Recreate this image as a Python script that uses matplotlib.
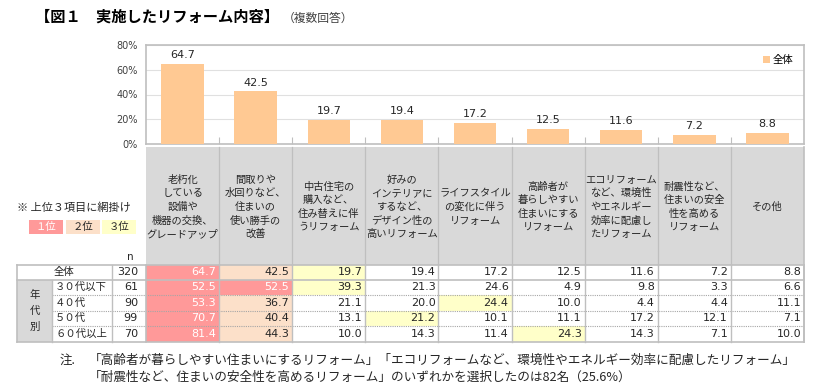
import matplotlib.pyplot as plt
from matplotlib.patches import Rectangle

plt.rcParams['font.family'] = ['Noto Sans CJK JP', 'DejaVu Sans']

# 項目（表の見出し）
categories = [
    '老朽化\nしている\n設備や\n機器の交換、\nグレードアップ',
    '間取りや\n水回りなど、\n住まいの\n使い勝手の\n改善',
    '中古住宅の\n購入など、\n住み替えに伴\nうリフォーム',
    '好みの\nインテリアに\nするなど、\nデザイン性の\n高いリフォーム',
    'ライフスタイル\nの変化に伴う\nリフォーム',
    '高齢者が\n暮らしやすい\n住まいにする\nリフォーム',
    'エコリフォーム\nなど、環境性\nやエネルギー\n効率に配慮し\nたリフォーム',
    '耐震性など、\n住まいの安全\n性を高める\nリフォーム',
    'その他',
]

# 全体
overall_n = 320
overall = [64.7, 42.5, 19.7, 19.4, 17.2, 12.5, 11.6, 7.2, 8.8]

# 年代別
age_labels = ['３０代以下', '４０代', '５０代', '６０代以上']
age_n = [61, 90, 99, 70]
age_20_30 = [52.5, 52.5, 39.3, 21.3, 24.6, 4.9, 9.8, 3.3, 6.6]
age_40 = [53.3, 36.7, 21.1, 20.0, 24.4, 10.0, 4.4, 4.4, 11.1]
age_50 = [70.7, 40.4, 13.1, 21.2, 10.1, 11.1, 17.2, 12.1, 7.1]
age_60 = [81.4, 44.3, 10.0, 14.3, 11.4, 24.3, 14.3, 7.1, 10.0]
age_values = [age_20_30, age_40, age_50, age_60]

W, H = 840, 391
fig = plt.figure(figsize=(W / 100, H / 100), dpi=100)

# 全体を描くキャンバス（ピクセル座標）
cv = fig.add_axes([0, 0, 1, 1])
cv.set_xlim(0, W)
cv.set_ylim(H, 0)
cv.axis('off')

# 表の座標
x0, x1 = 146, 804
ncol = len(categories)
cw = (x1 - x0) / ncol
hdr_top, hdr_bot = 147, 265
row_edges = [265, 279.5, 295, 310.5, 326, 341.5]
grid_c = '#BFBFBF'
txt_c = '#262626'
rank_colors = {1: '#FF9999', 2: '#FCE0C9', 3: '#FFFFC9'}

# 棒グラフ
ax = fig.add_axes([x0 / W, 1 - 144 / H, (x1 - x0) / W, (144 - 45) / H])
xs = list(range(ncol))
bars = ax.bar(xs, overall, width=0.58, color='#FFC993', label='全体', zorder=3)
for x, v in zip(xs, overall):
    ax.text(x, v + 3, f'{v:.1f}', ha='center', va='bottom', fontsize=8,
            color=txt_c, family='DejaVu Sans')
ax.set_xlim(-0.5, ncol - 0.5)
ax.set_ylim(0, 80)
ax.set_yticks([0, 20, 40, 60, 80])
ax.set_yticklabels(['0%', '20%', '40%', '60%', '80%'], fontsize=7, color='#404040',
                   family='DejaVu Sans')
ax.tick_params(axis='y', length=0, pad=6)
ax.set_xticks([i + 0.5 for i in range(ncol - 1)])
ax.set_xticklabels([])
ax.tick_params(axis='x', direction='in', length=5, color=grid_c)
ax.grid(axis='y', color='#E0E0E0', linewidth=0.8, zorder=0)
for s in ax.spines.values():
    s.set_color(grid_c)
    s.set_linewidth(1.2)
leg = ax.legend(loc='upper right', fontsize=7.5, frameon=False, handlelength=0.6,
                handleheight=0.6, handletextpad=0.3, borderaxespad=0.6)

# タイトル
cv.text(35, 17, '【図１　実施したリフォーム内容】', fontsize=11, fontweight='bold',
        va='center', ha='left', color='#000000')
cv.text(283, 18, '（複数回答）', fontsize=8.5, va='center', ha='left', color='#404040')

# 見出し行
cv.add_patch(Rectangle((x0, hdr_top), x1 - x0, hdr_bot - hdr_top, facecolor='#D9D9D9',
                       edgecolor='none'))
for i, lab in enumerate(categories):
    cx = x0 + cw * (i + 0.5)
    cv.text(cx, (hdr_top + hdr_bot) / 2 + 1, lab, ha='center', va='center',
            fontsize=7.4, linespacing=1.45, color=txt_c)
for i in range(1, ncol):
    cv.plot([x0 + cw * i] * 2, [hdr_top, hdr_bot], color=grid_c, lw=0.9)

# 左側の説明
cv.text(17, 208, '※ 上位３項目に網掛け', fontsize=8, va='center', ha='left', color=txt_c)
for k, (bx, lab) in enumerate(zip([29, 66, 102], ['１位', '２位', '３位'])):
    cv.add_patch(Rectangle((bx, 220), 34, 14, facecolor=rank_colors[k + 1],
                           edgecolor='none'))
    cv.text(bx + 17, 227, lab, ha='center', va='center', fontsize=7.5,
            color='white' if k == 0 else txt_c)
cv.text(130, 257, 'n', ha='center', va='center', fontsize=7.5, color=txt_c,
        family='DejaVu Sans')


def rank_of(vals):
    return [1 + sum(w > v for w in vals) for v in vals]


rows = [overall] + age_values
ns = [overall_n] + age_n
for r, vals in enumerate(rows):
    top, bot = row_edges[r], row_edges[r + 1]
    cy = (top + bot) / 2
    ranks = rank_of(vals)
    for i, v in enumerate(vals):
        cl = x0 + cw * i
        if ranks[i] <= 3:
            cv.add_patch(Rectangle((cl, top), cw, bot - top,
                                   facecolor=rank_colors[ranks[i]], edgecolor='none'))
        cv.text(cl + cw - 3, cy, f'{v:.1f}', ha='right', va='center', fontsize=8,
                family='DejaVu Sans', color='white' if ranks[i] == 1 else txt_c)
    cv.text(138, cy, str(ns[r]), ha='right', va='center', fontsize=8,
            family='DejaVu Sans', color=txt_c)
    if r == 0:
        cv.text(64.5, cy, '全体', ha='center', va='center', fontsize=7.5, color=txt_c)
    else:
        cv.text(55, cy, age_labels[r - 1], ha='left', va='center', fontsize=7.5,
                color=txt_c)

# 年代別の見出し
cv.add_patch(Rectangle((17, row_edges[1]), 35, row_edges[-1] - row_edges[1],
                       facecolor='#D9D9D9', edgecolor='none'))
for ch, yy in zip('年代別', [295, 311, 327]):
    cv.text(34.5, yy, ch, ha='center', va='center', fontsize=7.5, color=txt_c)

# 罫線
tb, tt = row_edges[-1], row_edges[0]
cv.plot([17, x1], [tt, tt], color=grid_c, lw=1.2)
cv.plot([17, x1], [tb, tb], color=grid_c, lw=1.2)
cv.plot([17, x1], [row_edges[1]] * 2, color=grid_c, lw=1.2)
for y in row_edges[2:-1]:
    cv.plot([52, x1], [y, y], color='#A6A6A6', lw=0.8, ls=(0, (1, 1)))
cv.plot([17, 17], [tt, tb], color=grid_c, lw=1.2)
cv.plot([52, 52], [row_edges[1], tb], color=grid_c, lw=1.0)
cv.plot([112, 112], [tt, tb], color=grid_c, lw=1.0)
for i in range(ncol + 1):
    cv.plot([x0 + cw * i] * 2, [tt, tb], color=grid_c, lw=1.2 if i in (0, ncol) else 1.0)
cv.plot([x1, x1], [hdr_top, tb], color=grid_c, lw=1.2)

# 注記
cv.text(60, 360, '注.', fontsize=9, va='center', ha='left', color=txt_c)
cv.text(89, 360, '「高齢者が暮らしやすい住まいにするリフォーム」「エコリフォームなど、環境性やエネルギー効率に配慮したリフォーム」',
        fontsize=9.1, va='center', ha='left', color=txt_c)
cv.text(89, 377, '「耐震性など、住まいの安全性を高めるリフォーム」のいずれかを選択したのは82名（25.6%）',
        fontsize=9.1, va='center', ha='left', color=txt_c)

fig.savefig('out.png', dpi=100)
